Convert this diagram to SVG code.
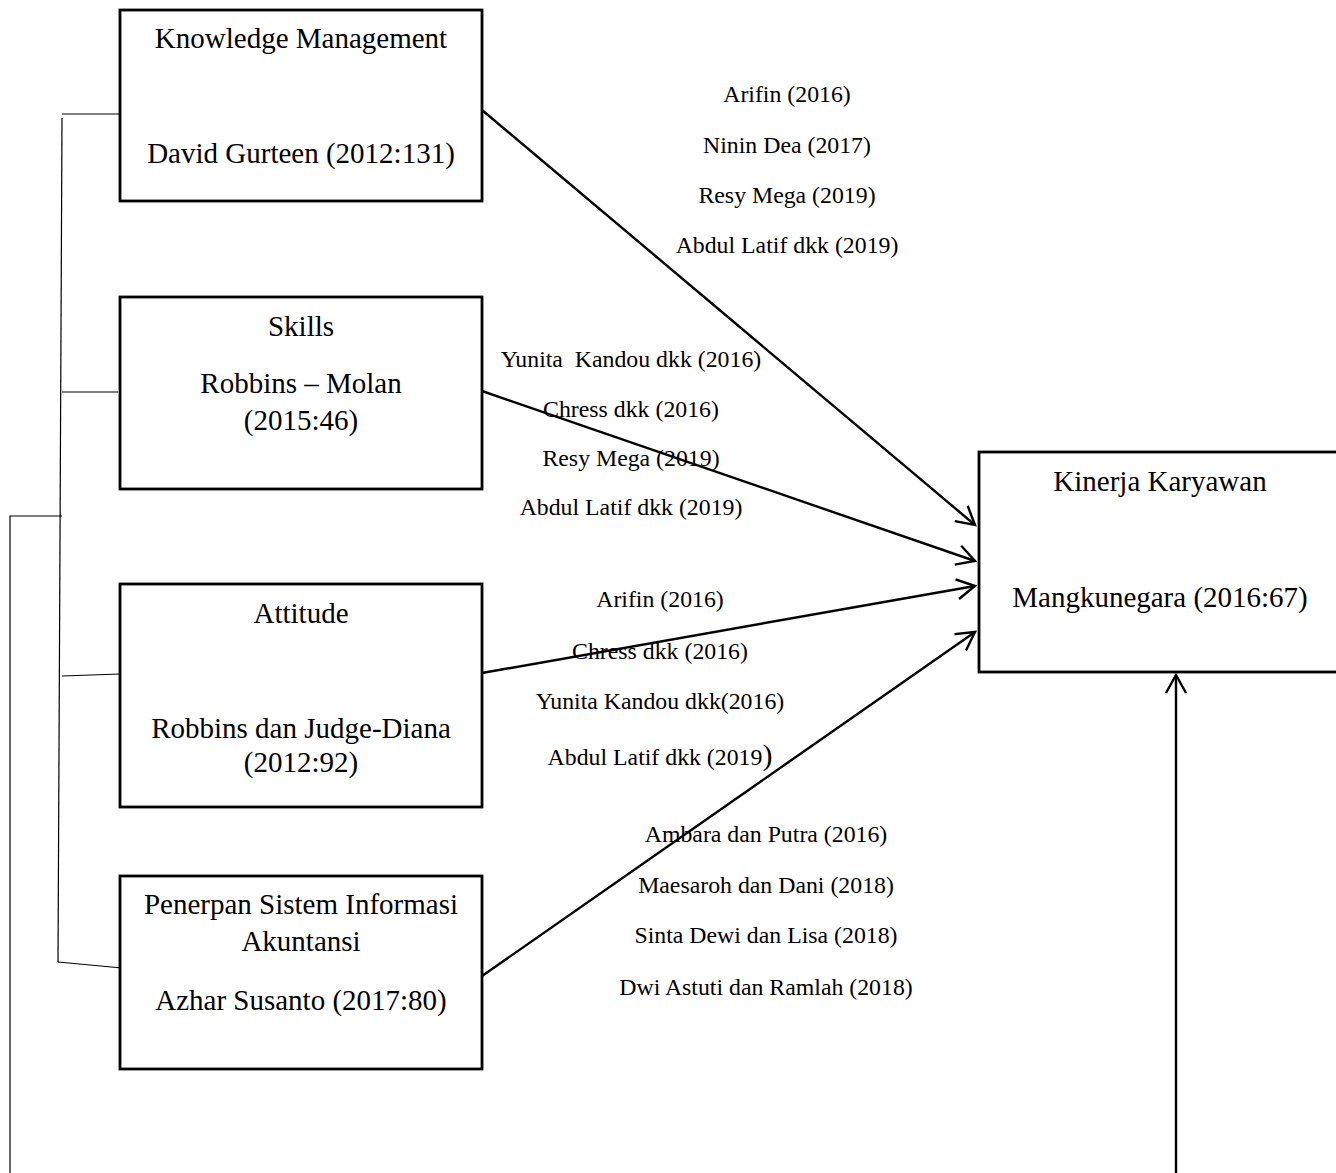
<svg xmlns="http://www.w3.org/2000/svg" width="1336" height="1173" viewBox="0 0 1336 1173">
<style>
.box{fill:#fff;stroke:#000;stroke-width:2.8}
.t{font-family:"Liberation Serif","Times New Roman",serif;font-size:29px;fill:#000;text-anchor:middle}
.l{font-family:"Liberation Serif","Times New Roman",serif;font-size:23.8px;fill:#000;text-anchor:middle;white-space:pre}
.br{fill:none;stroke:#000;stroke-width:1.2}
.ar{fill:none;stroke:#000;stroke-width:2.4;marker-end:url(#ah)}
</style>
<defs>
<marker id="ah" markerUnits="userSpaceOnUse" markerWidth="30" markerHeight="30" viewBox="-25 -15 30 30" refX="0" refY="0" orient="auto">
<path d="M-18,-10 L0,0 L-18,10" fill="none" stroke="#000" stroke-width="2.4"/>
</marker>
</defs>
<rect width="1336" height="1173" fill="#fff"/>
<g id="bracket">
<path class="br" d="M62,114 H120"/>
<path class="br" d="M62,118 L58,962"/>
<path class="br" d="M62,392 H118"/>
<path class="br" d="M10,1173 V516 H62"/>
<path class="br" d="M62,676 L120,674"/>
<path class="br" d="M58,962 L122,968"/>
</g>
<g id="knowledge">
<rect class="box" x="120" y="10" width="362" height="191"/>
<text class="t" x="301" y="48">Knowledge Management</text>
<text class="t" x="301" y="163">David Gurteen (2012:131)</text>
</g>
<g id="skills">
<rect class="box" x="120" y="297" width="362" height="192"/>
<text class="t" x="301" y="336">Skills</text>
<text class="t" x="301" y="393">Robbins – Molan</text>
<text class="t" x="301" y="430">(2015:46)</text>
</g>
<g id="attitude">
<rect class="box" x="120" y="584" width="362" height="223"/>
<text class="t" x="301" y="623">Attitude</text>
<text class="t" x="301" y="738">Robbins dan Judge-Diana</text>
<text class="t" x="301" y="772">(2012:92)</text>
</g>
<g id="sia">
<rect class="box" x="120" y="876" width="362" height="193"/>
<text class="t" x="301" y="914">Penerpan Sistem Informasi</text>
<text class="t" x="301" y="951">Akuntansi</text>
<text class="t" x="301" y="1010">Azhar Susanto (2017:80)</text>
</g>
<g id="kinerja">
<rect class="box" x="979" y="452" width="364" height="220"/>
<text class="t" x="1160" y="491">Kinerja Karyawan</text>
<text class="t" x="1160" y="607">Mangkunegara (2016:67)</text>
</g>
<g id="connectors">
<path class="ar" d="M482,110 L975,525"/>
<path class="ar" d="M482,391 L975,561"/>
<path class="ar" d="M482,673 L975,586"/>
<path class="ar" d="M482,976 L975,632"/>
<path class="ar" d="M1176,1173 V675"/>
</g>
<g id="labels">
<text class="l" x="787" y="102">Arifin (2016)</text>
<text class="l" x="787" y="153">Ninin Dea (2017)</text>
<text class="l" x="787" y="203">Resy Mega (2019)</text>
<text class="l" x="787" y="253">Abdul Latif dkk (2019)</text>
<text class="l" x="631" y="367">Yunita  Kandou dkk (2016)</text>
<text class="l" x="631" y="417">Chress dkk (2016)</text>
<text class="l" x="631" y="466">Resy Mega (2019)</text>
<text class="l" x="631" y="515">Abdul Latif dkk (2019)</text>
<text class="l" x="660" y="607">Arifin (2016)</text>
<text class="l" x="660" y="659">Chress dkk (2016)</text>
<text class="l" x="660" y="709">Yunita Kandou dkk(2016)</text>
<text class="l" x="660" y="765">Abdul Latif dkk (2019<tspan font-size="30">)</tspan></text>
<text class="l" x="766" y="842">Ambara dan Putra (2016)</text>
<text class="l" x="766" y="893">Maesaroh dan Dani (2018)</text>
<text class="l" x="766" y="943">Sinta Dewi dan Lisa (2018)</text>
<text class="l" x="766" y="995">Dwi Astuti dan Ramlah (2018)</text>
</g>
</svg>
